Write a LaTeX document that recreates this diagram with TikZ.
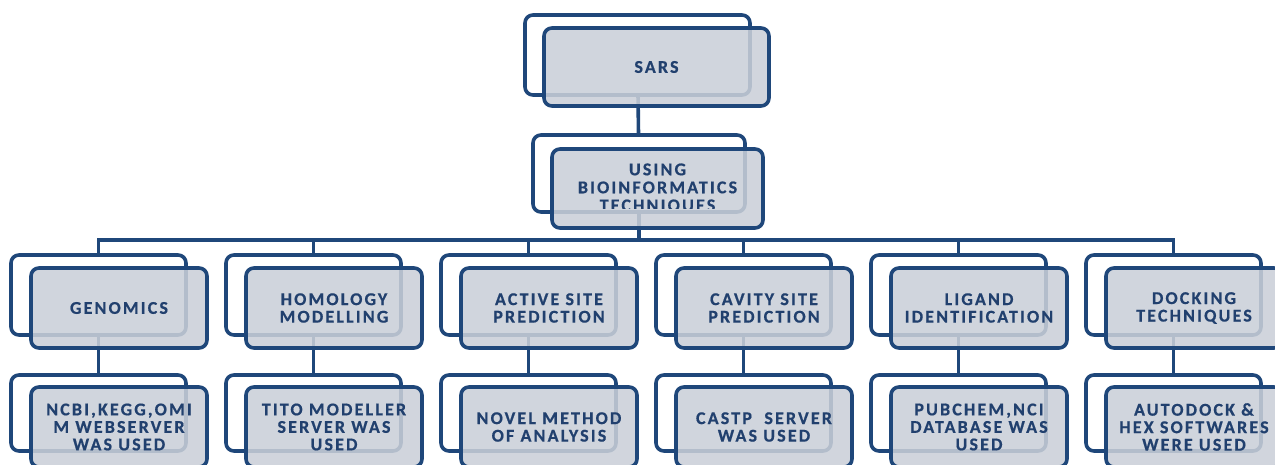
\documentclass[tikz,border=0pt]{standalone}
\usepackage{fontspec}
\setmainfont{Carlito}
\newfontfamily\boxfont[LetterSpace=12,BoldFeatures={FakeBold=0.6}]{Carlito}
\definecolor{bord}{RGB}{31,71,122}
\definecolor{boxfill}{RGB}{202,207,216}
\definecolor{txt}{RGB}{33,64,110}
\tikzset{
  conn/.style={draw=bord, line width=3.6pt},
  backbox/.style={draw=bord, line width=3.6pt, fill=white, rounded corners=8pt, inner sep=0pt},
  frontbox/.style={draw=bord, line width=3.6pt, fill=boxfill, fill opacity=0.87, text opacity=1,
    rounded corners=8pt, inner sep=0pt, align=center, text=txt,
    font=\boxfont\bfseries\fontsize{18}{17.5}\selectfont},
  label/.style={align=center, text=txt, inner sep=0pt, font=\boxfont\bfseries\fontsize{18}{18}\selectfont}
}
\begin{document}
\begin{tikzpicture}[x=1pt,y=-1pt]
\useasboundingbox (0,0) rectangle (1275,465);
\clip (0,0) rectangle (1275,465);
\coordinate (bus) at (0,240);
\path (637.5,55) coordinate (sarsc) (639,173.5) coordinate (usingc);
\foreach \i in {0,...,5}{
  \coordinate (g\i c) at ({98.5+215*\i},295);
  \coordinate (t\i c) at ({98.5+215*\i},413);
}
\draw[conn] (sarsc) -- (usingc);
\draw[conn] (usingc) -- (usingc |- bus);
\draw[conn, line cap=rect] (g0c |- bus) -- (g5c |- bus);
\foreach \i in {0,...,5}{
  \draw[conn] (g\i c |- bus) -- (g\i c) -- (t\i c);
}
% top boxes
\node[backbox, minimum width=225pt, minimum height=80pt] (sarsback) at (sarsc) {};
\node[frontbox, minimum width=225pt, minimum height=78pt] (sars) at (656.5,67) {SARS};
\node[backbox, minimum width=212pt, minimum height=77pt] (usingback) at (usingc) {};
\node[frontbox, minimum width=211pt, minimum height=79pt] (using) at (657.5,188.5) {};
\begin{scope}
\clip (540,140) rectangle (780,209);
\node[label] (usingtext) at (657.5,188.5) {USING\\BIOINFORMATICS\\TECHNIQUES};
\end{scope}
% second level
\foreach \i/\t in {0/{GENOMICS},1/{HOMOLOGY\\MODELLING},2/{ACTIVE SITE\\PREDICTION},
  3/{CAVITY SITE\\PREDICTION},4/{LIGAND\\IDENTIFICATION},5/{DOCKING\\TECHNIQUES}}{
  \node[backbox, minimum width=175pt, minimum height=80pt] (g\i back) at (g\i c) {};
  \node[frontbox, minimum width=176pt, minimum height=80pt] (g\i) at ({119+215*\i},308) {\t};
}
% third level
\foreach \i/\t in {0/{NCBI,KEGG,OMI\\M WEBSERVER\\WAS USED},1/{TITO MODELLER\\SERVER WAS\\USED},
  2/{NOVEL METHOD\\OF ANALYSIS},3/{CASTP\ \ SERVER\\WAS USED},4/{PUBCHEM,NCI\\DATABASE WAS\\USED},
  5/{AUTODOCK \&\\HEX SOFTWARES\\WERE USED}}{
  \node[backbox, minimum width=175pt, minimum height=76pt] (t\i back) at (t\i c) {};
  \node[frontbox, minimum width=176pt, minimum height=80pt] (t\i) at ({119+215*\i},427) {\t};
}
\end{tikzpicture}
\end{document}
